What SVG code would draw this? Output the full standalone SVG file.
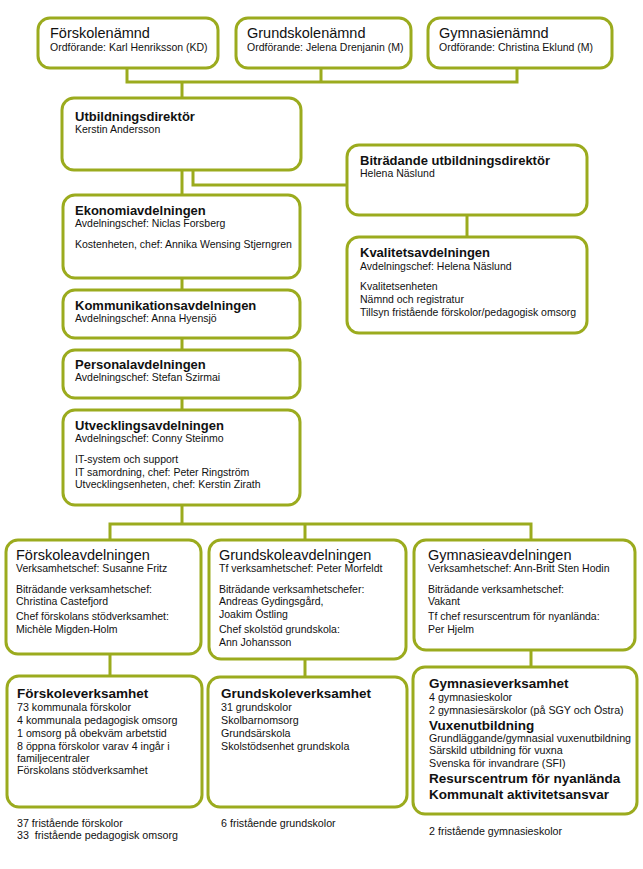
<svg xmlns="http://www.w3.org/2000/svg" width="643" height="869" viewBox="0 0 643 869">
<style>
.box{fill:#fff;stroke:#9bab1e;stroke-width:3}
.con{fill:none;stroke:#9bab1e;stroke-width:3;stroke-linejoin:miter}
text{font-family:"Liberation Sans",Arial,sans-serif;fill:#111}
.h{font-size:14.5px}
.b{font-size:13px;font-weight:bold}
.bb{font-size:13.5px;font-weight:bold}
.s{font-size:10.5px}
.m{font-size:10.7px}
</style>
<rect width="643" height="869" fill="#fff"/>
<g id="connectors">
<path class="con" d="M127 68V82H517V68M321 68V82M182 82V98"/>
<path class="con" d="M182 170V195M193 170V185H347"/>
<path class="con" d="M182 278V290M182 338V350M182 398V410"/>
<path class="con" d="M467 215V237"/>
<path class="con" d="M182 505V524M110 540V524H531V540M305 524V540"/>
<path class="con" d="M110 654V676M305 659V677M531 650V667"/>
</g>
<g id="forskolenamnd">
<rect class="box" x="38" y="18" width="180" height="50" rx="12"/>
<text class="h" x="50" y="38">Förskolenämnd</text>
<text class="s" x="50" y="51">Ordförande: Karl Henriksson (KD)</text>
</g>
<g id="grundskolenamnd">
<rect class="box" x="236" y="18" width="175" height="50" rx="12"/>
<text class="h" x="247" y="38">Grundskolenämnd</text>
<text class="s" x="247" y="51">Ordförande: Jelena Drenjanin (M)</text>
</g>
<g id="gymnasienamnd">
<rect class="box" x="428" y="18" width="184" height="50" rx="12"/>
<text class="h" x="439" y="38">Gymnasienämnd</text>
<text class="s" x="439" y="51">Ordförande: Christina Eklund (M)</text>
</g>
<g id="utbildningsdirektor">
<rect class="box" x="62" y="98" width="239" height="72" rx="12"/>
<text class="b" x="75" y="121">Utbildningsdirektör</text>
<text class="s" x="75" y="133">Kerstin Andersson</text>
</g>
<g id="bitradande">
<rect class="box" x="347" y="145" width="240" height="70" rx="12"/>
<text class="b" x="360" y="165">Biträdande utbildningsdirektör</text>
<text class="s" x="360" y="177">Helena Näslund</text>
</g>
<g id="kvalitet">
<rect class="box" x="347" y="237" width="240" height="96" rx="12"/>
<text class="b" x="360" y="257">Kvalitetsavdelningen</text>
<text class="s" x="360" y="270">Avdelningschef: Helena Näslund</text>
<text class="s" x="360" y="290">Kvalitetsenheten</text>
<text class="s" x="360" y="303">Nämnd och registratur</text>
<text class="s" x="360" y="316">Tillsyn fristående förskolor/pedagogisk omsorg</text>
</g>
<g id="ekonomi">
<rect class="box" x="63" y="195" width="237" height="83" rx="12"/>
<text class="b" x="75" y="215">Ekonomiavdelningen</text>
<text class="s" x="75" y="227">Avdelningschef: Niclas Forsberg</text>
<text class="s" x="75" y="248">Kostenheten, chef: Annika Wensing Stjerngren</text>
</g>
<g id="kommunikation">
<rect class="box" x="63" y="290" width="237" height="48" rx="12"/>
<text class="b" x="75" y="310">Kommunikationsavdelningen</text>
<text class="s" x="75" y="322">Avdelningschef: Anna Hyensjö</text>
</g>
<g id="personal">
<rect class="box" x="63" y="350" width="237" height="48" rx="12"/>
<text class="b" x="75" y="369">Personalavdelningen</text>
<text class="s" x="75" y="381">Avdelningschef: Stefan Szirmai</text>
</g>
<g id="utveckling">
<rect class="box" x="63" y="410" width="237" height="95" rx="12"/>
<text class="b" x="75" y="430">Utvecklingsavdelningen</text>
<text class="s" x="75" y="442">Avdelningschef: Conny Steinmo</text>
<text class="s" x="75" y="463">IT-system och support</text>
<text class="s" x="75" y="476">IT samordning, chef: Peter Ringström</text>
<text class="s" x="75" y="488">Utvecklingsenheten, chef: Kerstin Zirath</text>
</g>
<g id="forskoleavdelningen">
<rect class="box" x="6" y="540" width="195" height="114" rx="12"/>
<text class="h" x="16" y="560">Förskoleavdelningen</text>
<text class="s" x="16" y="572">Verksamhetschef: Susanne Fritz</text>
<text class="s" x="16" y="593">Biträdande verksamhetschef:</text>
<text class="s" x="16" y="605">Christina Castefjord</text>
<text class="s" x="16" y="620">Chef förskolans stödverksamhet:</text>
<text class="s" x="16" y="633">Michèle Migden-Holm</text>
</g>
<g id="grundskoleavdelningen">
<rect class="box" x="209" y="540" width="197" height="119" rx="12"/>
<text class="h" x="219" y="560">Grundskoleavdelningen</text>
<text class="s" x="219" y="572">Tf verksamhetschef: Peter Morfeldt</text>
<text class="s" x="219" y="593">Biträdande verksamhetschefer:</text>
<text class="s" x="219" y="605">Andreas Gydingsgård,</text>
<text class="s" x="219" y="618">Joakim Östling</text>
<text class="s" x="219" y="633">Chef skolstöd grundskola:</text>
<text class="s" x="219" y="646">Ann Johansson</text>
</g>
<g id="gymnasieavdelningen">
<rect class="box" x="414" y="540" width="221" height="110" rx="12"/>
<text class="h" x="428" y="560">Gymnasieavdelningen</text>
<text class="s" x="428" y="572">Verksamhetschef: Ann-Britt Sten Hodin</text>
<text class="s" x="428" y="593">Biträdande verksamhetschef:</text>
<text class="s" x="428" y="605">Vakant</text>
<text class="s" x="428" y="620">Tf chef resurscentrum för nyanlända:</text>
<text class="s" x="428" y="633">Per Hjelm</text>
</g>
<g id="forskoleverksamhet">
<rect class="box" x="7" y="676" width="195" height="131" rx="12"/>
<text class="bb" x="17" y="698">Förskoleverksamhet</text>
<text class="m" x="17" y="711">73 kommunala förskolor</text>
<text class="m" x="17" y="724">4 kommunala pedagogisk omsorg</text>
<text class="m" x="17" y="737">1 omsorg på obekväm arbetstid</text>
<text class="m" x="17" y="750">8 öppna förskolor varav 4 ingår i</text>
<text class="m" x="17" y="762">familjecentraler</text>
<text class="m" x="17" y="774">Förskolans stödverksamhet</text>
</g>
<g id="grundskoleverksamhet">
<rect class="box" x="208" y="677" width="199" height="130" rx="12"/>
<text class="bb" x="221" y="698">Grundskoleverksamhet</text>
<text class="m" x="221" y="711">31 grundskolor</text>
<text class="m" x="221" y="724">Skolbarnomsorg</text>
<text class="m" x="221" y="737">Grundsärskola</text>
<text class="m" x="221" y="750">Skolstödsenhet grundskola</text>
</g>
<g id="gymnasieverksamhet">
<rect class="box" x="413" y="667" width="224" height="147" rx="12"/>
<text class="bb" x="429" y="688">Gymnasieverksamhet</text>
<text class="m" x="429" y="701">4 gymnasieskolor</text>
<text class="m" x="429" y="714">2 gymnasiesärskolor (på SGY och Östra)</text>
<text class="bb" x="429" y="730">Vuxenutbildning</text>
<text class="m" x="429" y="742">Grundläggande/gymnasial vuxenutbildning</text>
<text class="m" x="429" y="754">Särskild utbildning för vuxna</text>
<text class="m" x="429" y="767">Svenska för invandrare (SFI)</text>
<text class="bb" x="429" y="783">Resurscentrum för nyanlända</text>
<text class="bb" x="429" y="799">Kommunalt aktivitetsansvar</text>
</g>
<g id="notes">
<text class="m" x="17" y="827">37 fristående förskolor</text>
<text class="m" x="17" y="839" xml:space="preserve">33  fristående pedagogisk omsorg</text>
<text class="m" x="221" y="827">6 fristående grundskolor</text>
<text class="m" x="429" y="835">2 fristående gymnasieskolor</text>
</g>
</svg>
